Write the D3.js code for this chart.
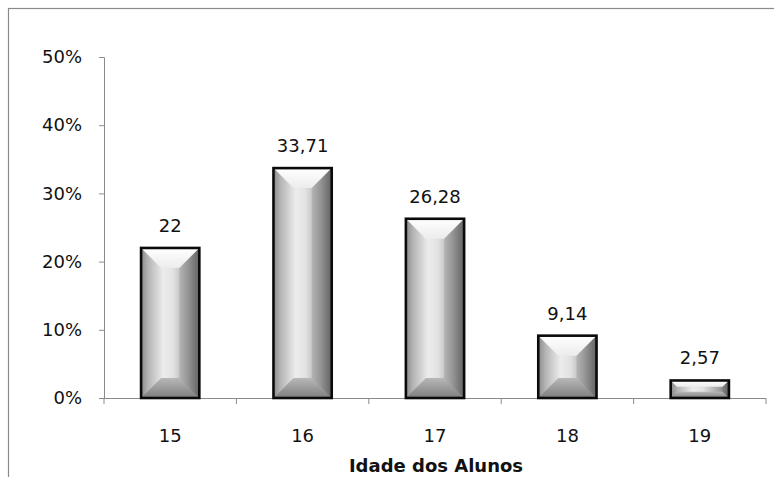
<!DOCTYPE html>
<html>
<head>
<meta charset="utf-8">
<script src="https://cdn.jsdelivr.net/npm/d3@7"></script>
<style>
  html, body { margin: 0; padding: 0; background: #fff; }
  svg { display: block; }
  text { font-family: "DejaVu Sans", sans-serif; fill: #111; }
</style>
</head>
<body>
<svg id="chart" width="774" height="477"></svg>
<script>
// Distribuição dos alunos por idade (%)
const ages = ["15", "16", "17", "18", "19"];
const percentages = [22, 33.71, 26.28, 9.14, 2.57];
const yTicks = [0, 10, 20, 30, 40, 50];
const xTitle = "Idade dos Alunos";

const svg = d3.select("#chart");
const W = 774, H = 477;
const FONT = "'DejaVu Sans', sans-serif";
const FS = 18;

// outer chart frame (extends beyond the right and bottom edges)
svg.append("rect")
  .attr("x", 8.5).attr("y", 8.5)
  .attr("width", W + 10).attr("height", H + 10)
  .attr("fill", "none").attr("stroke", "#8a8a8a").attr("stroke-width", 1.2);

const x = d3.scaleBand().domain(ages).range([104, 766]).paddingInner(0.56).paddingOuter(0.28);
const y = d3.scaleLinear().domain([0, 50]).range([398, 57]);

const locale = d3.formatLocale({ decimal: ",", thousands: ".", grouping: [3], currency: ["R$", ""] });
const fmtVal = locale.format(".2~f");

// gradients
const defs = svg.append("defs");
const face = defs.append("linearGradient").attr("id", "face").attr("x1", 0).attr("x2", 1).attr("y1", 0).attr("y2", 0);
[[0, "#8a8a8a"], [0.12, "#b4b4b4"], [0.38, "#ececec"], [0.55, "#e2e2e2"], [0.8, "#a8a8a8"], [1, "#6e6e6e"]]
  .forEach(([o, c]) => face.append("stop").attr("offset", o).attr("stop-color", c));
const topB = defs.append("linearGradient").attr("id", "topBevel").attr("x1", 0).attr("x2", 0).attr("y1", 0).attr("y2", 1);
[[0, "#ffffff"], [1, "#ececec"]].forEach(([o, c]) => topB.append("stop").attr("offset", o).attr("stop-color", c));
const botB = defs.append("linearGradient").attr("id", "botBevel").attr("x1", 0).attr("x2", 0).attr("y1", 0).attr("y2", 1);
[[0, "#b8b8b8"], [1, "#7e7e7e"]].forEach(([o, c]) => botB.append("stop").attr("offset", o).attr("stop-color", c));

// axes
const axisColor = "#8a8a8a";
const yAxis = svg.append("g").attr("transform", "translate(104,0)")
  .call(d3.axisLeft(y).tickValues(yTicks).tickFormat(d => d + "%").tickSize(5).tickPadding(17));
const xAxis = svg.append("g").attr("transform", `translate(0,${y(0)})`)
  .call(d3.axisBottom(x).tickSize(0).tickPadding(31));
// category boundary ticks on the x axis
const bounds = d3.range(ages.length + 1).map(i => 104 + i * (766 - 104) / ages.length);
xAxis.selectAll("line.bound").data(bounds).enter().append("line").attr("class", "bound")
  .attr("x1", d => d).attr("x2", d => d).attr("y1", 0).attr("y2", 6)
  .attr("stroke", axisColor);
xAxis.select(".domain").attr("d", "M104,0.5H766");

[yAxis, xAxis].forEach(g => {
  g.selectAll(".domain").attr("stroke", axisColor);
  g.selectAll(".tick line").attr("stroke", axisColor);
  g.selectAll("text").attr("font-size", FS).attr("fill", "#111").style("font-family", FONT);
});

// bars with bevelled look
const bars = svg.append("g").selectAll("g").data(ages.map((a, i) => ({ a, v: percentages[i] }))).enter().append("g");
bars.each(function (d) {
  const g = d3.select(this);
  const x0 = x(d.a), w = x.bandwidth(), x1 = x0 + w;
  const y0 = y(d.v), y1 = y(0), h = y1 - y0;
  const b = Math.min(20, h * 0.36);
  g.append("rect").attr("x", x0).attr("y", y0).attr("width", w).attr("height", h).attr("fill", "url(#face)");
  g.append("path").attr("fill", "url(#topBevel)")
    .attr("d", `M${x0},${y0}L${x1},${y0}L${x1 - b},${y0 + b}L${x0 + b},${y0 + b}Z`);
  g.append("path").attr("fill", "url(#botBevel)")
    .attr("d", `M${x0},${y1}L${x1},${y1}L${x1 - b},${y1 - b}L${x0 + b},${y1 - b}Z`);
  g.append("path").attr("fill", "#000").attr("opacity", 0.1)
    .attr("d", `M${x1},${y0}L${x1},${y1}L${x1 - b},${y1 - b}L${x1 - b},${y0 + b}Z`);
  g.append("rect").attr("x", x0).attr("y", y0).attr("width", w).attr("height", h)
    .attr("fill", "none").attr("stroke", "#0a0a0a").attr("stroke-width", 2.6);
  g.append("text").attr("x", x0 + w / 2).attr("y", y0 - 16)
    .attr("text-anchor", "middle").attr("font-size", FS).attr("fill", "#111")
    .text(fmtVal(d.v));
});

// axis title
svg.append("text").attr("x", 436).attr("y", 472).attr("text-anchor", "middle")
  .attr("font-size", FS).attr("font-weight", "bold").attr("fill", "#111").text(xTitle);
</script>
</body>
</html>
